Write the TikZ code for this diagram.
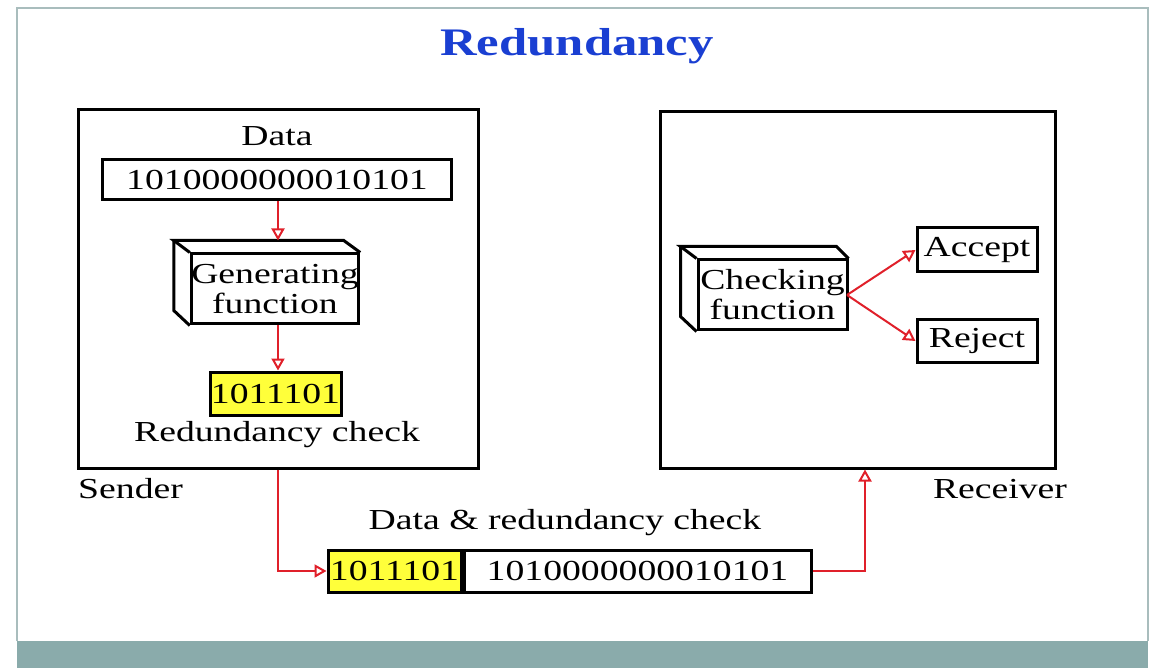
\documentclass[tikz,border=0pt]{standalone}
\usepackage{fontspec}
\setmainfont{Liberation Serif}[FakeStretch=1.3]
\usetikzlibrary{arrows.meta}

\definecolor{arrowred}{HTML}{E0202A}
\definecolor{titleblue}{HTML}{1A3FD2}
\definecolor{checkyellow}{HTML}{FFFF3A}
\definecolor{framegray}{HTML}{A9BDBD}
\definecolor{barteal}{HTML}{8AABAB}

\tikzset{
  boxline/.style={draw=black, line width=3pt},
  bitbox/.style={boxline, rectangle, inner sep=0pt, minimum height=42pt},
  funcbox/.style={boxline, rectangle, inner sep=0pt, align=center,
    fill=white, minimum height=70pt},
  flow/.style={draw=arrowred, line width=2pt,
    -{Triangle[open, length=12pt, width=13pt, line width=2pt]}},
  lbl/.style={inner sep=0pt}
}

\begin{document}
\begin{tikzpicture}[x=1pt, y=-1pt, font=\fontsize{29}{30}\selectfont]
  \useasboundingbox (0,0) rectangle (1154,668);
  % slide frame and bottom bar
  \fill[barteal] (17,641) rectangle (1148,668);
  \draw[framegray, line width=1.5pt] (17,641) -- (17,8) -- (1148,8) -- (1148,641);

  \node[lbl, text=titleblue, font=\fontsize{39}{40}\selectfont\bfseries]
    (title) at (577,46) {Redundancy};

  % sender side
  \node[boxline, rectangle, minimum width=400pt, minimum height=358pt]
    (sender) at (278,289) {};
  \node[lbl] (datalbl) at (277,136) {Data};
  \node[bitbox, minimum width=349pt, minimum height=40pt]
    (data) at (277,180) {1010000000010101};
  \node[funcbox, minimum width=164pt] (gen) at (275,289) {Generating\\function};
  \draw[boxline] (gen.north west) -- ++(-16,-12) coordinate (gback) -- ++(170,0) -- (gen.north east);
  \draw[boxline] (gback) -- ++(0,70) -- (gen.south west);
  \node[bitbox, fill=checkyellow, minimum width=131pt, minimum height=43pt]
    (redund) at (275.5,393.5) {1011101};
  \node[lbl] (redlbl) at (277,435) {Redundancy check};
  \node[lbl, anchor=west] (sndlbl) at (78,489) {Sender};

  % receiver side
  \node[boxline, rectangle, minimum width=395pt, minimum height=356pt]
    (receiver) at (857.5,290) {};
  \node[funcbox, minimum width=149pt] (check) at (772.5,295) {Checking\\function};
  \draw[boxline] (check.north west) -- ++(-16,-12) coordinate (cback) -- ++(156,0) -- (check.north east);
  \draw[boxline] (cback) -- ++(0,70) -- (check.south west);
  \node[bitbox, minimum width=120pt, minimum height=44pt] (accept) at (977,250) {Accept};
  \node[bitbox, minimum width=120pt] (reject) at (977,341) {Reject};
  \node[lbl] (rcvlbl) at (1000,489) {Receiver};

  % transmitted unit
  \node[lbl] (pktlbl) at (565,523) {Data \& redundancy check};
  \node[bitbox, fill=checkyellow, minimum width=133pt]
    (pktred) at (394.5,571) {1011101};
  \node[bitbox, minimum width=347pt, anchor=west]
    (pktdata) at (pktred.east) {1010000000010101};

  % connectors
  \coordinate (dtop) at (278,201.5);
  \draw[flow] (dtop) -- (dtop |- gback);
  \draw[flow] (gen.south) ++(3,0) coordinate (gbot) -- (gbot |- redund.north);
  \coordinate (sbot) at (278,469.5);
  \draw[flow] (sbot) |- (pktred.west);
  \coordinate (rbot) at (865,469.5);
  \draw[flow] (pktdata.east) -| (rbot);
  \coordinate (cout) at (847,295);
  \draw[flow] (cout) -- (accept.west);
  \draw[flow] (cout) -- (reject.west);
\end{tikzpicture}
\end{document}
